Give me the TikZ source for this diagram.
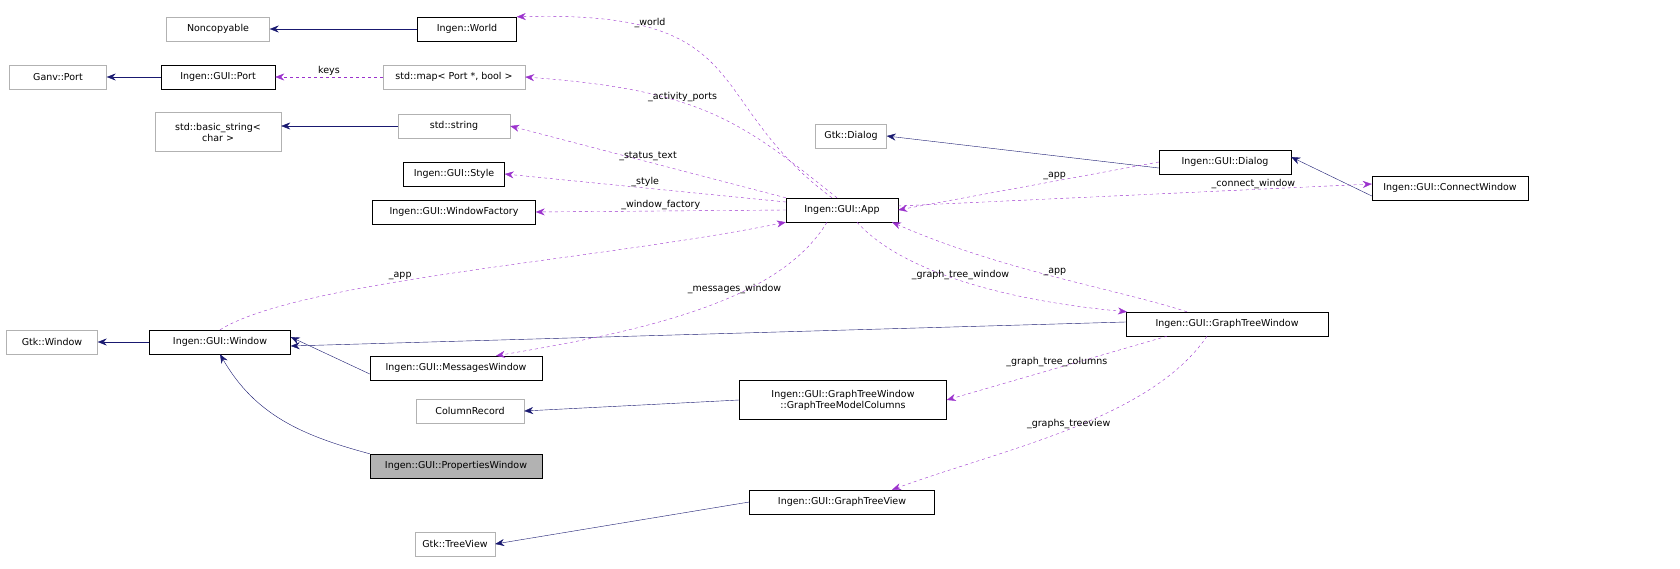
\documentclass[tikz,border=0pt]{standalone}
\usepackage{fontspec}
\setmainfont{DejaVu Sans}
\usetikzlibrary{arrows.meta}
\begin{document}
\begin{tikzpicture}[x=1pt,y=-1pt,font=\fontsize{9.5}{11}\selectfont,
 cls/.style={draw=black,fill=white,minimum height=24pt,inner sep=2pt,align=center},
 ext/.style={cls,draw=gray!60},
 inh/.style={draw={rgb,255:red,25;green,25;blue,112},-{Stealth[length=9pt,width=7pt]}},
 use/.style={draw={rgb,255:red,155;green,50;blue,205},dashed,-{Stealth[length=9pt,width=7pt]}},
 lab/.style={inner sep=1pt}]
\useasboundingbox (0,0) rectangle (1680,569);
\node[ext,minimum width=103pt] (nc) at (218,29) {Noncopyable};
\node[cls,minimum width=99pt] (world) at (467,29) {Ingen::World};
\node[ext,minimum width=97pt] (gport) at (58,77) {Ganv::Port};
\node[cls,minimum width=114pt] (port) at (218,77) {Ingen::GUI::Port};
\node[ext,minimum width=142pt] (map) at (454,77) {std::map< Port *, bool >};
\node[ext,minimum width=126pt,minimum height=39pt] (bstr) at (218,132) {std::basic\_string<\\char >};
\node[ext,minimum width=112pt] (str) at (454,126) {std::string};
\node[ext,minimum width=71pt] (gdlg) at (851,136) {Gtk::Dialog};
\node[cls,minimum width=101pt] (style) at (454,174) {Ingen::GUI::Style};
\node[cls,minimum width=163pt] (wf) at (454,212) {Ingen::GUI::WindowFactory};
\node[cls,minimum width=112pt] (app) at (842,210) {Ingen::GUI::App};
\node[cls,minimum width=132pt] (dlg) at (1225,162) {Ingen::GUI::Dialog};
\node[cls,minimum width=156pt] (cw) at (1450,188) {Ingen::GUI::ConnectWindow};
\node[ext,minimum width=91pt] (gwin) at (52,342) {Gtk::Window};
\node[cls,minimum width=141pt] (win) at (220,342) {Ingen::GUI::Window};
\node[cls,minimum width=202pt] (gtw) at (1227,324) {Ingen::GUI::GraphTreeWindow};
\node[cls,minimum width=172pt] (mw) at (456,368) {Ingen::GUI::MessagesWindow};
\node[ext,minimum width=108pt] (cr) at (470,411) {ColumnRecord};
\node[cls,minimum width=207pt,minimum height=39pt] (gtmc) at (843,400) {Ingen::GUI::GraphTreeWindow\\::GraphTreeModelColumns};
\node[cls,fill=gray!60,minimum width=172pt] (pw) at (456,466) {Ingen::GUI::PropertiesWindow};
\node[cls,minimum width=185pt] (gtv) at (842,502) {Ingen::GUI::GraphTreeView};
\node[ext,minimum width=80pt] (gtree) at (455,544) {Gtk::TreeView};
% inheritance
\draw[inh] (world) -- (nc);
\draw[inh] (port) -- (gport);
\draw[inh] (str.west) -- (bstr.east|-str.west);
\draw[inh] ([yshift=-6pt]dlg.west) -- (gdlg.east);
\draw[inh] ([yshift=-8pt]cw.west) -- ([yshift=5pt]dlg.east);
\draw[inh] (win) -- (gwin);
\draw[inh] ([yshift=2pt]gtw.west) -- ([yshift=-4pt]win.east);
\draw[inh] ([yshift=-6pt]mw.west) -- ([yshift=5pt]win.east);
\draw[inh] (pw.north west) to[out=165,in=-60] (win.south);
\draw[inh] (gtmc.west) -- (cr.east);
\draw[inh] (gtv.west) -- (gtree.east);
% usage
\draw[use] ([xshift=-10pt]app.north) .. controls (700,100) and (760,10) .. node[lab,above,pos=0.75]{\_world} (world.north east);
\draw[use] ([xshift=-5pt]app.north) .. controls (740,120) and (700,90) .. node[lab,above,pos=0.6]{\_activity\_ports} (map.east);
\draw[use] (map.west) -- node[lab,above]{keys} (port.east);
\draw[use] (app.north west) -- node[lab,above]{\_status\_text} (str.east);
\draw[use] (app.west) ++(0,-8) -- node[lab,above]{\_style} (style.east);
\draw[use] (app.west) -- node[lab,above]{\_window\_factory} (wf.east);
\draw[use] (dlg.west) -- node[lab,above,pos=0.4]{\_app} (app.east);
\draw[use] ([yshift=4pt]app.east) -- node[lab,above,pos=0.75]{\_connect\_window} ([yshift=4pt]cw.west);
\draw[use] (win.north) .. controls (300,280) and (600,260) .. node[lab,above,pos=0.4]{\_app} (app.south west);
\draw[use] ([xshift=-15pt]app.south) .. controls (780,300) and (650,330) .. node[lab,above,pos=0.4]{\_messages\_window} ([xshift=40pt]mw.north);
\draw[use] ([xshift=15pt]app.south) .. controls (900,270) and (1000,300) .. node[lab,above,pos=0.5]{\_graph\_tree\_window} ([xshift=-100pt]gtw.north);
\draw[use] ([xshift=-40pt]gtw.north) .. controls (1120,290) and (1000,270) .. node[lab,above,pos=0.5]{\_app} ([xshift=50pt]app.south);
\draw[use] ([xshift=-60pt]gtw.south) -- node[lab,above]{\_graph\_tree\_columns} (gtmc.east);
\draw[use] ([xshift=-20pt]gtw.south) .. controls (1150,420) and (1000,450) .. node[lab,above,pos=0.5]{\_graphs\_treeview} ([xshift=50pt]gtv.north);
\end{tikzpicture}
\end{document}
